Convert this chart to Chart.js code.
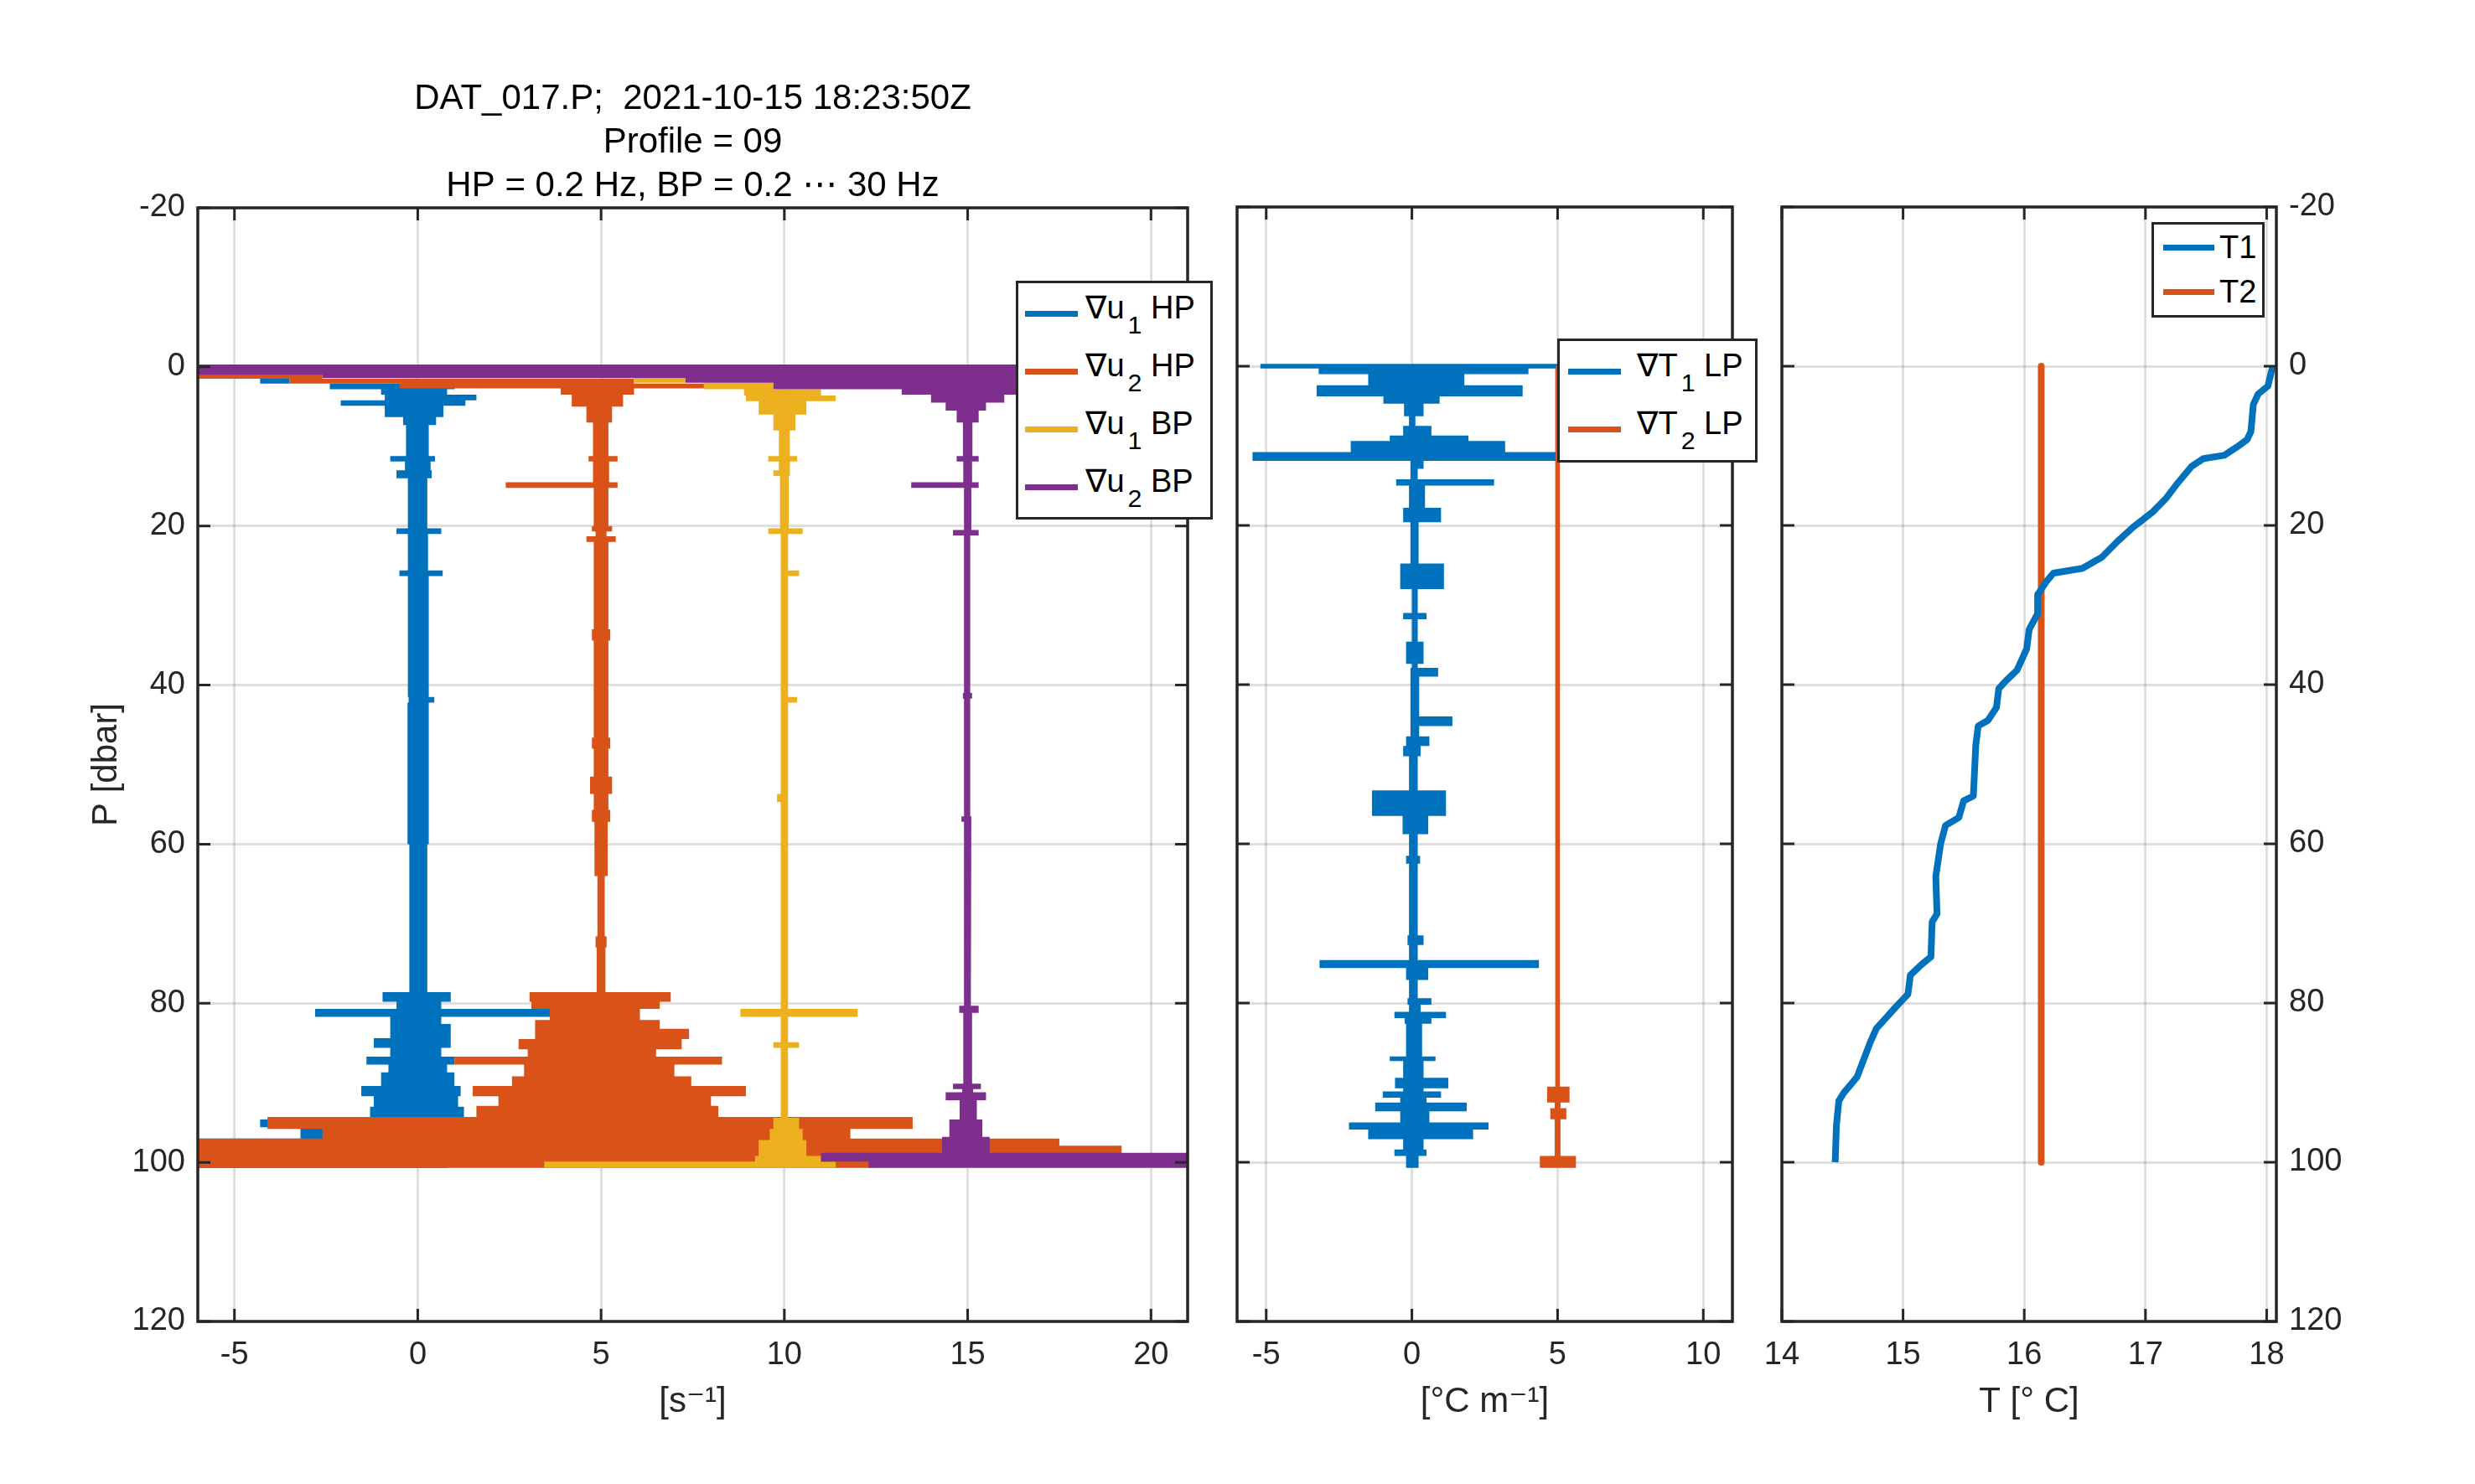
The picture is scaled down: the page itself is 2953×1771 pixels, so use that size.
<!DOCTYPE html>
<html>
<head>
<meta charset="utf-8">
<script src="https://cdn.jsdelivr.net/npm/chart.js@4.4.1/dist/chart.umd.min.js"></script>
<style>
  body { margin: 0; background: #fff; width: 2953px; height: 1771px; position: relative; overflow: hidden;
         font-family: "Liberation Sans", Arial, Helvetica, "DejaVu Sans", sans-serif; }
  canvas { position: absolute; top: 0; }
  .lg { position: absolute; background: #fff; border: 3px solid #262626; box-sizing: border-box; font-size: 38px; color: #000; }
  .lg i { position: absolute; height: 7px; }
  .lg span { position: absolute; white-space: pre; line-height: 38px; }
  .lg sub { font-size: 0.8em; vertical-align: -18px; line-height: 0; margin-left: 4px; }
</style>
</head>
<body>
<canvas id="c1" width="1440" height="1771" style="left:0px"></canvas>
<canvas id="c2" width="640" height="1771" style="left:1440px"></canvas>
<canvas id="c3" width="873" height="1771" style="left:2080px"></canvas>
<script>
// ---- data: rows are [P top, P bottom, low, high] ----
const titleLines = ['DAT_017.P;  2021-10-15 18:23:50Z', 'Profile = 09', 'HP = 0.2 Hz, BP = 0.2 \u22EF 30 Hz'];

// shear probes, left panel [s^-1]
const u1hp = [
  [1.5, 2.1, -4.3, -3.5], [2.1, 2.8, -2.4, 1.0], [2.8, 3.5, -1.0, 0.8], [3.5, 4.2, -0.9, 1.6],
  [4.2, 4.9, -2.1, 1.3], [4.9, 6.3, -0.9, 0.7], [6.3, 7.3, -0.4, 0.5], [7.3, 11.2, -0.32, 0.3],
  [11.2, 11.9, -0.75, 0.47], [11.9, 13.0, -0.35, 0.35], [13.0, 14.0, -0.58, 0.38], [14.0, 20.3, -0.27, 0.26],
  [20.3, 21.0, -0.58, 0.64], [21.0, 25.6, -0.27, 0.28], [25.6, 26.3, -0.5, 0.68], [26.3, 41.5, -0.27, 0.3],
  [41.5, 42.2, -0.25, 0.45], [42.2, 60.0, -0.28, 0.3], [60.0, 78.6, -0.23, 0.26], [78.6, 79.8, -0.96, 0.9],
  [79.8, 80.7, -0.58, 0.64], [80.7, 81.7, -2.8, 3.7], [81.7, 82.6, -0.75, 0.64], [82.6, 84.4, -0.75, 0.9],
  [84.4, 85.6, -1.2, 0.9], [85.6, 86.7, -0.75, 0.64], [86.7, 87.7, -1.4, 1.0], [87.7, 88.7, -0.8, 0.8],
  [88.7, 90.4, -1.0, 1.0], [90.4, 91.7, -1.54, 1.17], [91.7, 93.0, -1.2, 1.1], [93.0, 94.6, -1.3, 1.26],
  [94.6, 95.6, -4.3, 3.4], [95.6, 97.0, -3.2, 0.64], [97.0, 98.4, -6, 1.0], [98.4, 100.7, -6, 0.8]
];
const u2hp = [
  [0.8, 1.5, -6, -2.6], [1.5, 2.1, -3.5, 5.9], [2.1, 2.7, -0.5, 8.0], [2.7, 3.5, 3.9, 5.9],
  [3.5, 5.0, 4.2, 5.6], [5.0, 7.0, 4.6, 5.3], [7.0, 11.2, 4.78, 5.2], [11.2, 11.9, 4.66, 5.45],
  [11.9, 14.5, 4.78, 5.22], [14.5, 15.2, 2.4, 5.45], [15.2, 20.0, 4.8, 5.2], [20.0, 20.7, 4.75, 5.3],
  [20.7, 21.3, 4.85, 5.15], [21.3, 22.0, 4.6, 5.4], [22.0, 33.0, 4.8, 5.2], [33.0, 34.4, 4.75, 5.25],
  [34.4, 46.6, 4.8, 5.2], [46.6, 48.0, 4.75, 5.25], [48.0, 51.5, 4.8, 5.2], [51.5, 53.7, 4.7, 5.3],
  [53.7, 55.7, 4.8, 5.2], [55.7, 57.2, 4.75, 5.25], [57.2, 64.0, 4.82, 5.18], [64.0, 71.6, 4.9, 5.1],
  [71.6, 73.0, 4.85, 5.15], [73.0, 78.6, 4.88, 5.12], [78.6, 79.8, 3.05, 6.9], [79.8, 80.7, 3.1, 6.6],
  [80.7, 82.1, 3.6, 6.06], [82.1, 83.2, 3.2, 6.6], [83.2, 84.5, 3.2, 7.4], [84.5, 85.8, 2.75, 7.2],
  [85.8, 86.7, 3.0, 6.5], [86.7, 87.7, 1.0, 8.3], [87.7, 89.2, 2.9, 7.0], [89.2, 90.4, 2.57, 7.46],
  [90.4, 91.7, 1.5, 8.95], [91.7, 92.9, 2.2, 8.0], [92.9, 94.3, 1.6, 8.2], [94.3, 95.8, -4.1, 13.5],
  [95.8, 97.0, -2.6, 11.8], [97.0, 97.9, -6, 17.5], [97.9, 99.0, -6, 19.2], [99.0, 100.7, -6, 12.4]
];
const u1bp = [
  [1.4, 2.0, 5.9, 7.3], [2.0, 2.8, 7.8, 9.7], [2.8, 3.6, 8.9, 11.0], [3.6, 4.3, 8.95, 11.4],
  [4.3, 6.0, 9.3, 10.6], [6.0, 8.0, 9.7, 10.3], [8.0, 11.2, 9.85, 10.15], [11.2, 11.9, 9.56, 10.35],
  [11.9, 13.0, 9.85, 10.15], [13.0, 13.7, 9.7, 10.15], [13.7, 20.3, 9.88, 10.12], [20.3, 21.0, 9.56, 10.5],
  [21.0, 25.6, 9.9, 10.1], [25.6, 26.3, 9.9, 10.4], [26.3, 41.5, 9.9, 10.1], [41.5, 42.2, 9.9, 10.35],
  [42.2, 53.7, 9.9, 10.1], [53.7, 54.7, 9.8, 10.1], [54.7, 80.7, 9.9, 10.1], [80.7, 81.7, 8.8, 12.0],
  [81.7, 84.9, 9.9, 10.1], [84.9, 85.6, 9.7, 10.4], [85.6, 94.4, 9.9, 10.1], [94.4, 95.8, 9.7, 10.4],
  [95.8, 97.2, 9.6, 10.5], [97.2, 99.2, 9.3, 10.6], [99.2, 99.9, 9.2, 11.0], [99.9, 100.7, 3.45, 11.4]
];
const u2bp = [
  [-0.3, 1.0, -6, 21], [1.0, 1.4, -2.6, 21], [1.4, 2.0, 7.3, 21], [2.0, 2.8, 9.7, 18],
  [2.8, 3.5, 13.2, 16.6], [3.5, 4.5, 14.0, 16.0], [4.5, 5.5, 14.4, 15.5], [5.5, 7.0, 14.7, 15.3],
  [7.0, 11.2, 14.87, 15.13], [11.2, 11.9, 14.7, 15.3], [11.9, 14.5, 14.88, 15.12], [14.5, 15.2, 13.46, 15.3],
  [15.2, 20.5, 14.9, 15.1], [20.5, 21.2, 14.6, 15.3], [21.2, 41.0, 14.9, 15.07], [41.0, 41.7, 14.87, 15.12],
  [41.7, 56.5, 14.9, 15.07], [56.5, 57.2, 14.83, 15.1], [57.2, 80.3, 14.9, 15.08], [80.3, 81.2, 14.77, 15.3],
  [81.2, 90.1, 14.88, 15.12], [90.1, 90.8, 14.6, 15.36], [90.8, 91.2, 14.85, 15.15], [91.2, 92.2, 14.4, 15.5],
  [92.2, 94.6, 14.78, 15.25], [94.6, 96.8, 14.5, 15.4], [96.8, 98.8, 14.3, 15.6], [98.8, 99.9, 11.0, 21],
  [99.9, 100.7, 12.3, 21]
];

// temperature gradients, middle panel [degC m^-1]
const t1lp = [
  [-0.3, 0.3, -5.2, 5.0], [0.3, 1.0, -3.2, 4.0], [1.0, 2.4, -1.5, 1.8], [2.4, 3.8, -3.27, 3.8],
  [3.8, 4.7, -0.98, 0.95], [4.7, 6.3, -0.27, 0.4], [6.3, 7.5, -0.1, 0.12], [7.5, 8.7, -0.3, 0.67],
  [8.7, 9.4, -0.76, 1.94], [9.4, 10.8, -2.1, 3.2], [10.8, 11.9, -5.47, 4.97], [11.9, 12.9, -0.05, 0.4],
  [12.9, 14.2, -0.05, 0.2], [14.2, 15.0, -0.54, 2.82], [15.0, 17.8, -0.1, 0.45], [17.8, 19.6, -0.3, 1.0],
  [19.6, 24.8, -0.05, 0.23], [24.8, 28.0, -0.4, 1.1], [28.0, 31.0, 0.0, 0.2], [31.0, 31.8, -0.3, 0.5],
  [31.8, 34.6, 0.0, 0.2], [34.6, 37.4, -0.2, 0.4], [37.4, 37.9, 0.0, 0.2], [37.9, 39.0, -0.05, 0.9],
  [39.0, 44.0, -0.05, 0.25], [44.0, 45.2, -0.05, 1.39], [45.2, 46.5, -0.05, 0.25], [46.5, 47.7, -0.2, 0.6],
  [47.7, 49.0, -0.3, 0.3], [49.0, 53.3, -0.1, 0.2], [53.3, 56.5, -1.37, 1.17], [56.5, 58.8, -0.32, 0.56],
  [58.8, 61.5, -0.1, 0.2], [61.5, 62.5, -0.2, 0.28], [62.5, 71.5, -0.1, 0.2], [71.5, 72.7, -0.15, 0.4],
  [72.7, 74.6, -0.1, 0.2], [74.6, 75.6, -3.17, 4.36], [75.6, 77.1, -0.2, 0.56], [77.1, 79.4, -0.1, 0.2],
  [79.4, 80.2, -0.15, 0.67], [80.2, 81.1, -0.1, 0.3], [81.1, 81.9, -0.6, 1.17], [81.9, 82.6, -0.25, 0.67],
  [82.6, 86.7, -0.2, 0.35], [86.7, 87.3, -0.76, 0.81], [87.3, 89.4, -0.3, 0.4], [89.4, 90.7, -0.58, 1.25],
  [90.7, 91.1, -0.3, 0.4], [91.1, 91.9, -1.0, 1.0], [91.9, 92.5, -0.4, 0.5], [92.5, 93.6, -1.26, 1.88],
  [93.6, 95.0, -0.4, 0.6], [95.0, 95.9, -2.16, 2.63], [95.9, 97.1, -1.5, 2.1], [97.1, 98.4, -0.3, 0.4],
  [98.4, 99.2, -0.6, 0.5], [99.2, 100.7, -0.2, 0.23]
];
const t2lp = [
  [0.0, 90.5, 4.92, 5.08], [90.5, 92.5, 4.64, 5.41], [92.5, 93.2, 4.9, 5.1],
  [93.2, 94.6, 4.75, 5.3], [94.6, 99.2, 4.9, 5.1], [99.2, 100.7, 4.39, 5.63]
];

// temperature profiles, right panel [degC]
const t1P = [0, 2.5, 3.5, 4.8, 8.2, 9.2, 10.2, 11.2, 11.6, 12.6, 14.6, 16.6, 18.3, 19.5, 20.2, 22.0, 24.0,
             25.4, 26.0, 27.1, 28.7, 31.1, 33.1, 35.5, 38.2, 39.5, 40.5, 42.9, 44.5, 45.2, 47.6, 54.0, 54.6,
             56.7, 57.7, 60.0, 64.1, 68.8, 69.8, 74.2, 75.2, 76.5, 78.9, 80.5, 82.2, 83.2, 84.9, 89.3, 91.3,
             92.3, 95.4, 100];
const t1T = [18.05, 18.01, 17.93, 17.89, 17.87, 17.84, 17.75, 17.65, 17.48, 17.38, 17.27, 17.17, 17.06, 16.96,
             16.90, 16.77, 16.64, 16.48, 16.24, 16.18, 16.11, 16.11, 16.04, 16.02, 15.94, 15.85, 15.79, 15.77,
             15.70, 15.62, 15.60, 15.58, 15.50, 15.46, 15.35, 15.31, 15.27, 15.28, 15.24, 15.23, 15.15, 15.06,
             15.04, 14.94, 14.84, 14.78, 14.73, 14.62, 14.51, 14.47, 14.45, 14.44];
const t2P = [0, 100];
const t2T = [16.14, 16.14];

// ---- styling ----
const BLUE = '#0072BD', ORANGE = '#D95319', YELLOW = '#EDB120', PURPLE = '#7E2F8E';
const INK = '#262626', GRID = 'rgba(38,38,38,0.15)';
Chart.defaults.font.family = '"Liberation Sans", Arial, Helvetica, "DejaVu Sans", sans-serif';
Chart.defaults.font.size = 38;
Chart.defaults.color = INK;

// outline of a band trace: down the high side, back up the low side
function bandPoints(rows) {
  const right = [], left = [];
  rows.forEach(([p0, p1, lo, hi]) => {
    right.push({x: hi, y: p0}, {x: hi, y: p1});
    left.unshift({x: lo, y: p1}, {x: lo, y: p0});
  });
  return right.concat(left);
}
function band(rows, label, color, order) {
  return {label, data: bandPoints(rows), borderColor: color, backgroundColor: color,
          borderWidth: 0, fill: 'shape', pointRadius: 0, order};
}
function profile(T, P, label, color) {
  return {label, data: T.map((t, i) => ({x: t, y: P[i]})), borderColor: color, backgroundColor: color,
          borderWidth: 8, fill: false, pointRadius: 0, borderJoinStyle: 'round'};
}

function xAxis(min, max, step, title) {
  return {
    type: 'linear', min, max, border: {display: false},
    grid: {color: GRID, lineWidth: 3, drawTicks: false},
    ticks: {stepSize: step, includeBounds: false, padding: 18},
    title: {display: true, text: title, font: {size: 42}, padding: {top: 0, bottom: 72}},
    afterFit(s) { s.height = 194; }
  };
}
function yAxis(position, width, showLabels, title) {
  return {
    type: 'linear', reverse: true, min: -20, max: 120, position, border: {display: false},
    grid: {color: GRID, lineWidth: 3, drawTicks: false},
    ticks: {stepSize: 20, display: showLabels, padding: 15},
    title: {display: !!title, text: title || '', font: {size: 42}, padding: {top: 102, bottom: 0}},
    afterFit(s) { s.width = width; }
  };
}

// box round the axes and inward tick marks on all four sides
const frame = {
  id: 'frame',
  afterDraw(chart) {
    const {ctx, chartArea: a, scales: {x, y}} = chart;
    ctx.save();
    ctx.strokeStyle = INK;
    ctx.lineWidth = 3;
    ctx.beginPath();
    x.ticks.forEach(t => {
      const px = x.getPixelForValue(t.value);
      ctx.moveTo(px, a.bottom); ctx.lineTo(px, a.bottom - 15);
      ctx.moveTo(px, a.top); ctx.lineTo(px, a.top + 15);
    });
    y.ticks.forEach(t => {
      const py = y.getPixelForValue(t.value);
      ctx.moveTo(a.left, py); ctx.lineTo(a.left + 15, py);
      ctx.moveTo(a.right, py); ctx.lineTo(a.right - 15, py);
    });
    ctx.stroke();
    ctx.lineWidth = 3.5;
    ctx.strokeRect(a.left, a.top, a.right - a.left, a.bottom - a.top);
    ctx.restore();
  }
};

// MATLAB-style legend box built from the chart's datasets, as HTML text
const htmlLegend = {
  id: 'htmlLegend',
  afterRender(chart, args, o) {
    if (chart.$legendBox) return;
    const box = document.createElement('div');
    box.className = 'lg';
    Object.assign(box.style, {left: o.left + 'px', top: o.top + 'px', width: o.width + 'px', height: o.height + 'px'});
    chart.data.datasets.forEach((ds, i) => {
      const cy = o.first + i * o.step - 3;
      const hasSub = ds.label.includes('_');
      const mark = document.createElement('i');
      Object.assign(mark.style, {left: o.sx + 'px', width: o.len + 'px', top: (cy - 3.5) + 'px', background: ds.borderColor});
      const txt = document.createElement('span');
      txt.innerHTML = ds.label.replace(/_(\w)/g, '<sub>$1</sub>');
      Object.assign(txt.style, {left: o.tx + 'px', top: (cy - (hasSub ? 25.6 : 18.6)) + 'px'});
      box.append(mark, txt);
    });
    document.body.appendChild(box);
    chart.$legendBox = box;
  }
};

const common = {responsive: false, animation: false, devicePixelRatio: 1, events: []};

new Chart(document.getElementById('c1'), {
  type: 'line',
  data: {datasets: [
    band(u1hp, '\u2207u_1 HP', BLUE, 3),
    band(u2hp, '\u2207u_2 HP', ORANGE, 2),
    band(u1bp, '\u2207u_1 BP', YELLOW, 1),
    band(u2bp, '\u2207u_2 BP', PURPLE, 0)
  ]},
  options: {...common,
    layout: {padding: {top: 92, right: 23, left: 0, bottom: 0}},
    plugins: {
      legend: {display: false}, tooltip: {enabled: false},
      title: {display: true, text: titleLines, fullSize: false, padding: 0, color: '#000',
              font: {size: 42, weight: 'normal', lineHeight: 52 / 42}},
      htmlLegend: {left: 1212, top: 335, width: 235, height: 285, first: 39, step: 69, sx: 8, len: 63, tx: 80}
    },
    scales: {x: xAxis(-6, 21, 5, '[s\u207B\u00B9]'), y: yAxis('left', 236, true, 'P [dbar]')}
  },
  plugins: [frame, htmlLegend]
});

new Chart(document.getElementById('c2'), {
  type: 'line',
  data: {datasets: [
    band(t1lp, '\u2207T_1 LP', BLUE, 1),
    band(t2lp, '\u2207T_2 LP', ORANGE, 0)
  ]},
  options: {...common,
    layout: {padding: {top: 247, right: 13, left: 0, bottom: 0}},
    plugins: {
      legend: {display: false}, tooltip: {enabled: false},
      htmlLegend: {left: 1858, top: 404, width: 239, height: 148, first: 39, step: 69, sx: 10, len: 63, tx: 92}
    },
    scales: {x: xAxis(-6, 11, 5, '[\u00B0C m\u207B\u00B9]'), y: yAxis('left', 36, false, null)}
  },
  plugins: [frame, htmlLegend]
});

new Chart(document.getElementById('c3'), {
  type: 'line',
  data: {datasets: [
    profile(t1T, t1P, 'T1', BLUE),
    profile(t2T, t2P, 'T2', ORANGE)
  ]},
  options: {...common,
    layout: {padding: {top: 247, right: 0, left: 46, bottom: 0}},
    plugins: {
      legend: {display: false}, tooltip: {enabled: false},
      htmlLegend: {left: 2567, top: 265, width: 135, height: 114, first: 30, step: 53, sx: 11, len: 61, tx: 78}
    },
    scales: {x: xAxis(14, 18.08, 1, 'T [\u00B0 C]'), y: yAxis('right', 237, true, null)}
  },
  plugins: [frame, htmlLegend]
});
</script>
</body>
</html>
